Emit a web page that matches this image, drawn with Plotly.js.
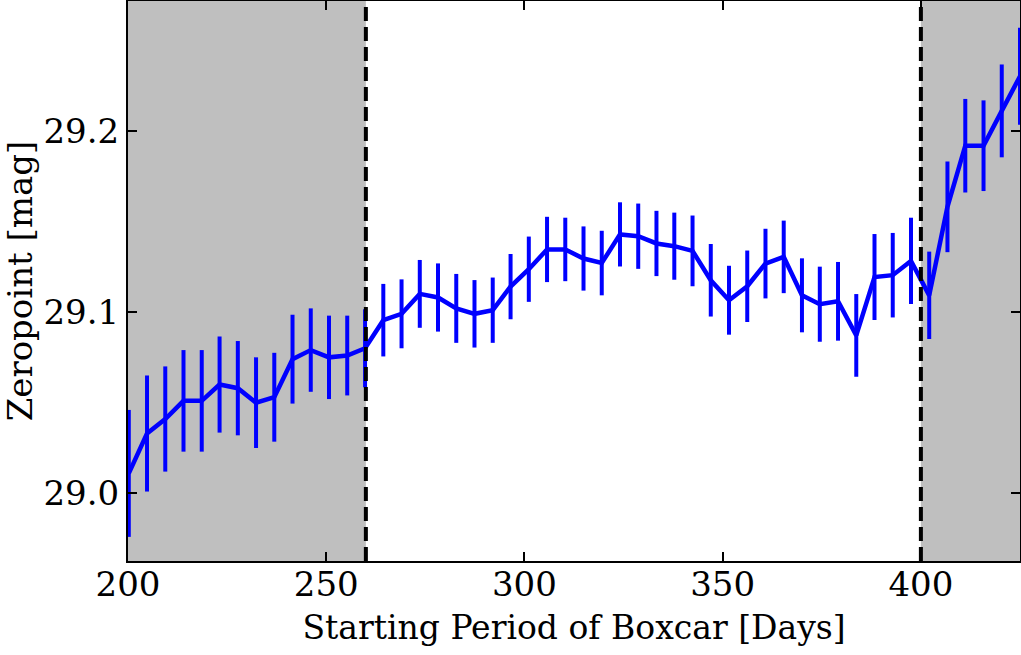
<!DOCTYPE html>
<html>
<head>
<meta charset="utf-8">
<script src="https://cdn.plot.ly/plotly-3.0.1.min.js"></script>
<style>html,body{margin:0;padding:0;background:#fff;}#chart{width:1021px;height:655px;}</style>
</head>
<body>
<div id="chart"></div>
<script>
// Starting period of boxcar [days]
var startDays = [200.2,204.8,209.4,214.0,218.6,223.1,227.7,232.3,236.9,241.5,
                 246.1,250.7,255.3,259.8,264.4,269.0,273.6,278.2,282.8,287.4,
                 292.0,296.5,301.1,305.7,310.3,314.9,319.5,324.1,328.7,333.3,
                 337.8,342.4,347.0,351.6,356.2,360.8,365.4,370.0,374.5,379.1,
                 383.7,388.3,392.9,397.5,402.1,406.7,411.2,415.8,420.4,425.0];
// Zeropoint [mag]
var zeropoint = [29.011,29.033,29.041,29.051,29.051,29.060,29.058,29.050,29.053,29.074,
                 29.079,29.075,29.076,29.080,29.0955,29.099,29.110,29.108,29.102,29.099,
                 29.101,29.114,29.1236,29.1345,29.1345,29.1295,29.127,29.1428,29.1418,29.1378,
                 29.1363,29.1337,29.1175,29.1065,29.1142,29.1267,29.1304,29.1092,29.1043,29.1059,
                 29.0871,29.1193,29.1203,29.1282,29.1092,29.158,29.1917,29.1917,29.2109,29.230];
// 1-sigma uncertainty [mag]
var zeropointErr = [0.035,0.032,0.029,0.028,0.028,0.0265,0.026,0.025,0.0245,0.0245,
                    0.023,0.023,0.022,0.0215,0.020,0.019,0.0187,0.0188,0.019,0.0186,
                    0.018,0.018,0.018,0.018,0.0175,0.0177,0.0178,0.0177,0.018,0.018,
                    0.0185,0.0195,0.020,0.019,0.0197,0.0192,0.020,0.0204,0.0207,0.0217,
                    0.0228,0.0237,0.0233,0.0238,0.0241,0.025,0.0258,0.025,0.0256,0.0267];
// Excluded regions and boundaries
var shadedRanges = [[190, 260], [400, 440]];
var boundaries = [260, 400];
var xTicks = [200, 250, 300, 350, 400];
var yTicks = [29.0, 29.1, 29.2];

var font = 'DejaVu Serif';

var trace = {
  x: startDays, y: zeropoint, mode: 'lines', type: 'scatter',
  line: {color: '#0000ff', width: 4.5},
  error_y: {type: 'data', array: zeropointErr, visible: true, color: '#0000ff', thickness: 4, width: 0},
  hoverinfo: 'none'
};

var shapes = [];
shadedRanges.forEach(function(r){
  shapes.push({type:'rect', xref:'x', yref:'paper', x0:r[0], x1:r[1], y0:0, y1:1,
    fillcolor:'#bfbfbf', line:{width:0}, layer:'below'});
});
boundaries.forEach(function(b){
  shapes.push({type:'line', xref:'x', yref:'paper', x0:b, x1:b, y0:0, y1:1,
    line:{color:'#000', width:4, dash:'14px,6px'}, layer:'above'});
});

var axisCommon = {
  showline: true, linecolor: '#000', linewidth: 2, mirror: 'ticks',
  ticks: 'inside', ticklen: 9, tickwidth: 2, tickcolor: '#000',
  showgrid: false, zeroline: false,
  tickfont: {family: font, size: 34, color: '#000'}
};

var layout = {
  width: 1021, height: 655,
  margin: {l: 128, r: 1, t: 1, b: 94},
  paper_bgcolor: '#fff', plot_bgcolor: '#fff',
  font: {family: font, color: '#000'},
  showlegend: false,
  xaxis: Object.assign({}, axisCommon, {
    range: [200, 425], tickmode: 'array', tickvals: xTicks, ticktext: xTicks.map(String),
    ticklabelstandoff: -8,
    title: {text: 'Starting Period of Boxcar [Days]', font: {family: font, size: 33, color: '#000'}, standoff: 13}
  }),
  yaxis: Object.assign({}, axisCommon, {
    range: [28.9627, 29.2715], tickmode: 'array', tickvals: yTicks, ticktext: yTicks.map(function(v){return v.toFixed(1);}),
    title: {text: 'Zeropoint [mag]', font: {family: font, size: 34, color: '#000'}, standoff: 6}
  }),
  shapes: shapes
};

Plotly.newPlot('chart', [trace], layout, {staticPlot: true, displayModeBar: false});
</script>
</body>
</html>
